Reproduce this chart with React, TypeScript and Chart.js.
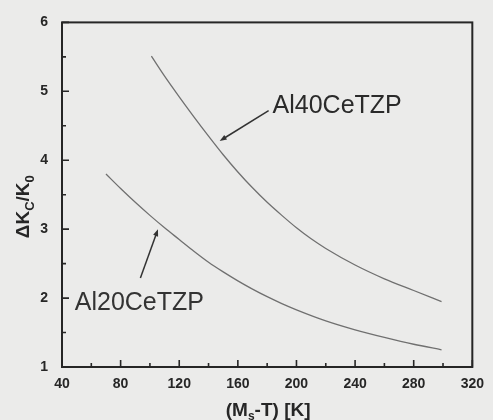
import React, { useEffect, useRef } from "react";
import { Chart, registerables } from "chart.js";

Chart.register(...registerables);

// ---- data ----
const tempAl40 = [101, 110, 120, 130, 140, 150, 160, 170, 180, 190, 200, 210, 220, 240, 260, 280, 299];
const kcAl40 = [5.51, 5.22, 4.92, 4.63, 4.35, 4.08, 3.83, 3.60, 3.39, 3.20, 3.02, 2.86, 2.72, 2.48, 2.28, 2.11, 1.95];
const tempAl20 = [70, 80, 90, 100, 110, 120, 130, 140, 150, 160, 170, 180, 190, 200, 220, 240, 260, 280, 299];
const kcAl20 = [3.80, 3.59, 3.39, 3.20, 3.02, 2.85, 2.68, 2.52, 2.38, 2.25, 2.13, 2.02, 1.92, 1.83, 1.67, 1.54, 1.43, 1.33, 1.25];
const seriesNames = ["Al40CeTZP", "Al20CeTZP"];
const xMajorTicks = [40, 80, 120, 160, 200, 240, 280, 320];
const yMajorTicks = [1, 2, 3, 4, 5, 6];

// annotation anchors in data coordinates
const labelAnchors = [
  { text: seriesNames[0], x: 183.7, y: 4.69, from: [181, 4.72], to: [147.6, 4.28] },
  { text: seriesNames[1], x: 48.7, y: 1.82, from: [93.5, 2.29], to: [105.5, 3.0] },
];

const BG = "#ebebea";
const INK = "#262626";
const LINE = "#707070";

function drawArrow(ctx: CanvasRenderingContext2D, x1: number, y1: number, x2: number, y2: number) {
  const ang = Math.atan2(y2 - y1, x2 - x1);
  const head = 7;
  const hw = 2.6;
  ctx.beginPath();
  ctx.moveTo(x1, y1);
  ctx.lineTo(x2 - Math.cos(ang) * head * 0.8, y2 - Math.sin(ang) * head * 0.8);
  ctx.lineWidth = 1.5;
  ctx.strokeStyle = "#333";
  ctx.stroke();
  ctx.beginPath();
  ctx.moveTo(x2, y2);
  ctx.lineTo(x2 - Math.cos(ang) * head + Math.sin(ang) * hw, y2 - Math.sin(ang) * head - Math.cos(ang) * hw);
  ctx.lineTo(x2 - Math.cos(ang) * head - Math.sin(ang) * hw, y2 - Math.sin(ang) * head + Math.cos(ang) * hw);
  ctx.closePath();
  ctx.fillStyle = "#333";
  ctx.fill();
}

const decorPlugin = {
  id: "decor",
  beforeDraw(chart: any) {
    const ctx = chart.ctx;
    ctx.save();
    ctx.fillStyle = BG;
    ctx.fillRect(0, 0, chart.width, chart.height);
    ctx.restore();
  },
  afterDraw(chart: any) {
    const ctx: CanvasRenderingContext2D = chart.ctx;
    const { left, right, top, bottom } = chart.chartArea;
    const xs = chart.scales.x;
    const ys = chart.scales.y;
    ctx.save();
    // frame
    ctx.strokeStyle = INK;
    ctx.lineWidth = 2;
    ctx.strokeRect(left, top, right - left, bottom - top);
    // inward ticks
    ctx.lineWidth = 1.6;
    ctx.beginPath();
    for (let v = 40; v <= 320; v += 20) {
      const px = xs.getPixelForValue(v);
      const len = v % 40 === 0 ? 7 : 4;
      ctx.moveTo(px, bottom);
      ctx.lineTo(px, bottom - len);
    }
    for (let v = 1; v <= 6; v += 0.5) {
      const py = ys.getPixelForValue(v);
      const len = Number.isInteger(v) ? 7 : 4;
      ctx.moveTo(left, py);
      ctx.lineTo(left + len, py);
    }
    ctx.stroke();

    // annotations
    ctx.fillStyle = "#2a2a2a";
    ctx.font = "25px 'Liberation Sans', Arial, sans-serif";
    ctx.textBaseline = "alphabetic";
    ctx.textAlign = "left";
    for (const a of labelAnchors) {
      ctx.fillText(a.text, xs.getPixelForValue(a.x), ys.getPixelForValue(a.y));
      drawArrow(
        ctx,
        xs.getPixelForValue(a.from[0]),
        ys.getPixelForValue(a.from[1]),
        xs.getPixelForValue(a.to[0]),
        ys.getPixelForValue(a.to[1])
      );
    }

    // x title: (Ms-T) [K]
    const big = "bold 19px 'Liberation Sans', Arial, sans-serif";
    const small = "bold 12px 'Liberation Sans', Arial, sans-serif";
    ctx.fillStyle = INK;
    const parts: [string, boolean][] = [["(M", false], ["s", true], ["-T) [K]", false]];
    const widthOf = (ps: [string, boolean][], b: string, s: string) =>
      ps.reduce((w, [t, sub]) => {
        ctx.font = sub ? s : b;
        return w + ctx.measureText(t).width;
      }, 0);
    let tw = widthOf(parts, big, small);
    let cx = (left + right) / 2 + 1 - tw / 2;
    const by = 416;
    for (const [t, sub] of parts) {
      ctx.font = sub ? small : big;
      ctx.fillText(t, cx, sub ? by + 4 : by);
      cx += ctx.measureText(t).width;
    }

    // y title: ΔKC/K0 rotated
    const yparts: [string, boolean][] = [["\u0394K", false], ["C", true], ["/K", false], ["0", true]];
    const ybig = "bold 19px 'Liberation Sans', Arial, sans-serif";
    const ysmall = "bold 13px 'Liberation Sans', Arial, sans-serif";
    tw = widthOf(yparts, ybig, ysmall);
    ctx.translate(29, (top + bottom) / 2 + 12);
    ctx.rotate(-Math.PI / 2);
    let px = -tw / 2;
    for (const [t, sub] of yparts) {
      ctx.font = sub ? ysmall : ybig;
      ctx.fillText(t, px, sub ? 5 : 0);
      px += ctx.measureText(t).width;
    }
    ctx.restore();
  },
};

export default function App() {
  const ref = useRef<HTMLCanvasElement | null>(null);
  useEffect(() => {
    document.body.style.margin = "0";
    document.body.style.background = BG;
    const canvas = ref.current;
    if (!canvas) return;
    const chart = new Chart(canvas, {
      type: "line",
      data: {
        datasets: [
          {
            label: seriesNames[0],
            data: tempAl40.map((t, i) => ({ x: t, y: kcAl40[i] })),
            borderColor: LINE,
            borderWidth: 1.3,
            pointRadius: 0,
            cubicInterpolationMode: "monotone",
            fill: false,
          },
          {
            label: seriesNames[1],
            data: tempAl20.map((t, i) => ({ x: t, y: kcAl20[i] })),
            borderColor: LINE,
            borderWidth: 1.3,
            pointRadius: 0,
            cubicInterpolationMode: "monotone",
            fill: false,
          },
        ],
      },
      options: {
        responsive: false,
        animation: false,
        devicePixelRatio: 1,
        layout: { padding: { top: 19, right: 12, left: 0, bottom: 0 } },
        plugins: { legend: { display: false }, tooltip: { enabled: false } },
        scales: {
          x: {
            type: "linear",
            min: 40,
            max: 320,
            afterBuildTicks: (s: any) => {
              s.ticks = xMajorTicks.map((v) => ({ value: v }));
            },
            afterFit: (s: any) => {
              s.height = 53;
            },
            grid: { display: false, drawTicks: false },
            border: { display: false },
            ticks: {
              padding: 9,
              color: INK,
              font: { family: "'Liberation Sans', Arial, sans-serif", size: 14, weight: "bold" },
              maxRotation: 0,
            },
          },
          y: {
            type: "linear",
            min: 1,
            max: 6,
            afterBuildTicks: (s: any) => {
              s.ticks = yMajorTicks.map((v) => ({ value: v }));
            },
            afterFit: (s: any) => {
              s.width = 62;
            },
            grid: { display: false, drawTicks: false },
            border: { display: false },
            ticks: {
              padding: 14,
              color: INK,
              font: { family: "'Liberation Sans', Arial, sans-serif", size: 14, weight: "bold" },
            },
          },
        },
      },
      plugins: [decorPlugin],
    } as any);
    return () => chart.destroy();
  }, []);
  return (
    <div style={{ position: "absolute", left: 0, top: 0, width: 493, height: 420 }}>
      <canvas ref={ref} width={493} height={420} style={{ display: "block" }} />
    </div>
  );
}
